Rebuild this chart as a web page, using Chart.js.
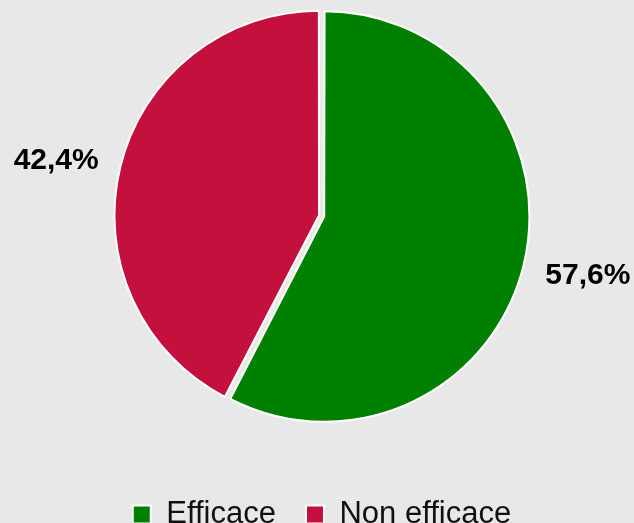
<!DOCTYPE html>
<html>
<head>
<meta charset="utf-8">
<script src="https://cdn.jsdelivr.net/npm/chart.js@4"></script>
<style>
  html, body { margin: 0; padding: 0; background: #e8e8e8; overflow: hidden; }
  #wrap { width: 634px; height: 577px; margin-top: -37px; }
</style>
</head>
<body>
<div id="wrap"><canvas id="pieChart" width="634" height="577"></canvas></div>
<script>
const categories = ["Efficace", "Non efficace"];
const shares = [57.6, 42.4];
const sliceColors = ["#008000", "#c3103c"];
const sliceOffsets = [9, 12];

// outside percentage labels, French decimal comma
const outsideLabels = {
  id: "outsideLabels",
  afterDatasetsDraw(chart) {
    const ctx = chart.ctx;
    const meta = chart.getDatasetMeta(0);
    ctx.save();
    ctx.font = "bold 30px 'Liberation Sans', Arial, sans-serif";
    ctx.fillStyle = "#000";
    ctx.textAlign = "center";
    ctx.textBaseline = "middle";
    meta.data.forEach((arc, i) => {
      const p = arc.getProps(["x", "y", "startAngle", "endAngle", "outerRadius"], true);
      const mid = (p.startAngle + p.endAngle) / 2 - 0.025;
      const r = p.outerRadius + 69;
      const txt = shares[i].toFixed(1).replace(".", ",") + "%";
      ctx.fillText(txt, p.x + Math.cos(mid) * r, p.y + Math.sin(mid) * r + 2.5);
    });
    ctx.restore();
  }
};

const ctx = document.getElementById("pieChart").getContext("2d");
new Chart(ctx, {
  type: "pie",
  data: {
    labels: categories,
    datasets: [{
      data: shares,
      backgroundColor: sliceColors,
      borderColor: "#ffffff",
      borderWidth: 2,
      offset: sliceOffsets,
      radius: 203
    }]
  },
  options: {
    responsive: false,
    animation: false,
    layout: { padding: { top: 0, left: 10, right: 0, bottom: 0 } },
    plugins: {
      tooltip: { enabled: false },
      legend: {
        position: "bottom",
        labels: {
          color: "#111",
          boxWidth: 18,
          boxHeight: 18,
          padding: 30,
          font: { family: "'Liberation Sans', Arial, sans-serif", size: 31 }
        }
      }
    }
  },
  plugins: [outsideLabels]
});
</script>
</body>
</html>
